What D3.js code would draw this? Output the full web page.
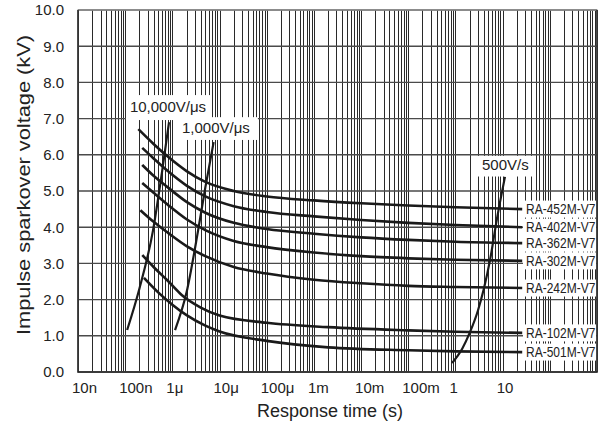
<!DOCTYPE html>
<html>
<head>
<meta charset="utf-8">
<script src="https://cdn.jsdelivr.net/npm/d3@7"></script>
<style>
  body { margin: 0; background: #fff; }
  svg { display: block; font-family: "Liberation Sans", Arial, sans-serif; }
</style>
</head>
<body>
<div class="chart"></div>
<script>
// data: [time (s), voltage (kV)]
const timeTicks = [1e-8, 1e-7, 1e-6, 1e-5, 1e-4, 1e-3, 1e-2, 1e-1, 1, 10];
const timeLabels = ["10n", "100n", "1\u03bc", "10\u03bc", "100\u03bc", "1m", "10m", "100m", "1", "10"];
const voltTicks = [0, 1, 2, 3, 4, 5, 6, 7, 8, 9, 10];

const models = ["RA-452M-V7", "RA-402M-V7", "RA-362M-V7", "RA-302M-V7", "RA-242M-V7", "RA-102M-V7", "RA-501M-V7"];

const ra452 = [[1.9e-7, 6.71], [4e-7, 6.3], [8e-7, 5.95], [2e-6, 5.55], [5e-6, 5.25], [2e-5, 5.0], [1e-4, 4.85], [1e-3, 4.74], [1e-2, 4.66], [1e-1, 4.6], [1, 4.55], [26, 4.5]];
const ra402 = [[2.3e-7, 6.19], [4e-7, 5.9], [8e-7, 5.55], [2e-6, 5.15], [5e-6, 4.85], [2e-5, 4.58], [1e-4, 4.42], [1e-3, 4.3], [1e-2, 4.2], [1e-1, 4.12], [1, 4.06], [26, 4.0]];
const ra362 = [[2.3e-7, 5.72], [4e-7, 5.42], [8e-7, 5.1], [2e-6, 4.7], [5e-6, 4.4], [2e-5, 4.12], [1e-4, 3.95], [1e-3, 3.82], [1e-2, 3.72], [1e-1, 3.65], [1, 3.6], [26, 3.56]];
const ra302 = [[2.3e-7, 5.22], [4e-7, 4.95], [8e-7, 4.62], [2e-6, 4.22], [5e-6, 3.92], [2e-5, 3.62], [1e-4, 3.45], [1e-3, 3.3], [1e-2, 3.2], [1e-1, 3.14], [1, 3.1], [26, 3.07]];
const ra242 = [[2.1e-7, 4.47], [4e-7, 4.15], [8e-7, 3.85], [2e-6, 3.48], [5e-6, 3.2], [2e-5, 2.9], [1e-4, 2.72], [1e-3, 2.55], [1e-2, 2.45], [1e-1, 2.38], [1, 2.35], [26, 2.32]];
const ra102 = [[2.3e-7, 3.23], [4e-7, 2.9], [8e-7, 2.52], [1.6e-6, 2.12], [4e-6, 1.78], [1e-5, 1.56], [1e-4, 1.36], [2e-3, 1.24], [1e-1, 1.15], [1, 1.11], [26, 1.08]];
const ra501 = [[2.5e-7, 2.6], [5e-7, 2.2], [1e-6, 1.86], [2e-6, 1.57], [5e-6, 1.28], [1e-5, 1.12], [1e-4, 0.86], [2e-3, 0.68], [1e-1, 0.6], [1, 0.57], [26, 0.55]];
const curves = [ra452, ra402, ra362, ra302, ra242, ra102, ra501];

// rate-of-rise lines
const rate10000 = [[1.1e-7, 1.16], [2e-7, 2.3], [3.9e-7, 3.92], [6e-7, 5.5], [8.5e-7, 6.9]];
const rate1000 = [[1.14e-6, 1.16], [2e-6, 2.2], [3.5e-6, 3.9], [5e-6, 5.1], [7.5e-6, 6.35]];
const rate500 = [[0.85, 0.25], [1.4, 0.65], [2.0, 1.08], [3.0, 1.7], [4.0, 2.3], [5.4, 3.09], [7.5, 4.2], [11.2, 5.39]];
const rateNames = ["10,000V/\u03bcs", "1,000V/\u03bcs", "500V/s"];
const rateLabelAt = [[1.26e-7, 7.18], [1.6e-6, 6.6], [3.66, 5.58]];

const width = 605;
const height = 421;

const svg = d3
  .select(".chart")
  .append("svg")
  .attr("width", width)
  .attr("height", height);

const x = d3.scaleLog().domain([1e-8, 1e3]).range([78, 597]);
const y = d3.scaleLinear().domain([0, 10]).range([372, 10]);

// vertical log grid
const gridTimes = [];
d3.range(-8, 3).forEach(n => {
  d3.range(1, 10).forEach(k => gridTimes.push(k * Math.pow(10, n)));
});
gridTimes.push(1e3);

svg
  .append("g")
  .selectAll("line")
  .data(gridTimes)
  .enter()
  .append("line")
  .attr("x1", d => Math.round(x(d)) + 0.5)
  .attr("x2", d => Math.round(x(d)) + 0.5)
  .attr("y1", y(10))
  .attr("y2", y(0))
  .attr("stroke", "#2a2a2a")
  .attr("stroke-width", 1);

// horizontal grid
svg
  .append("g")
  .selectAll("line")
  .data(voltTicks)
  .enter()
  .append("line")
  .attr("x1", x(1e-8))
  .attr("x2", x(1e3))
  .attr("y1", d => y(d))
  .attr("y2", d => y(d))
  .attr("stroke", "#4a4a4a")
  .attr("stroke-width", 1.4);

// white label boxes
const rateBoxes = [
  { t0: 1.04e-7, t1: 6.3e-6, v0: 6.96, v1: 7.65 },
  { t0: 1.45e-6, t1: 6.5e-5, v0: 6.41, v1: 7.04 },
  { t0: 3.0, t1: 44, v0: 5.4, v1: 5.97 }
];
svg
  .append("g")
  .selectAll("rect")
  .data(rateBoxes)
  .enter()
  .append("rect")
  .attr("x", d => x(d.t0))
  .attr("width", d => x(d.t1) - x(d.t0))
  .attr("y", d => y(d.v1))
  .attr("height", d => y(d.v0) - y(d.v1))
  .attr("fill", "#fff");

const ends = curves.map(c => c[c.length - 1]);
svg
  .append("g")
  .selectAll("rect")
  .data(ends)
  .enter()
  .append("rect")
  .attr("x", x(27))
  .attr("width", x(1e3) - x(27) - 1)
  .attr("y", d => y(d[1]) - 8.5)
  .attr("height", 17)
  .attr("fill", "#fff");

const line = d3
  .line()
  .x(d => x(d[0]))
  .y(d => y(d[1]))
  .curve(d3.curveMonotoneX);

svg
  .append("g")
  .selectAll("path")
  .data([rate10000, rate1000, rate500])
  .enter()
  .append("path")
  .attr("d", line)
  .attr("fill", "none")
  .attr("stroke", "#1a1a1a")
  .attr("stroke-width", 2.2);

svg
  .append("g")
  .selectAll("path")
  .data(curves)
  .enter()
  .append("path")
  .attr("d", line)
  .attr("fill", "none")
  .attr("stroke", "#1a1a1a")
  .attr("stroke-width", 2.6);

// frame
svg
  .append("rect")
  .attr("x", x(1e-8))
  .attr("y", y(10))
  .attr("width", x(1e3) - x(1e-8))
  .attr("height", y(0) - y(10))
  .attr("fill", "none")
  .attr("stroke", "#9a9a9a")
  .attr("stroke-width", 1.2);
svg
  .append("path")
  .attr("d", `M${x(1e-8)},${y(10)}V${y(0)}H${x(1e3)}V${y(10)}`)
  .attr("fill", "none")
  .attr("stroke", "#222")
  .attr("stroke-width", 1.5);

// curve labels, squeezed horizontally like the scan
svg
  .append("g")
  .selectAll("text")
  .data(ends)
  .enter()
  .append("text")
  .attr("transform", d => `translate(${x(27) + 3},${y(d[1]) + 5}) scale(0.8,1)`)
  .attr("font-size", 15)
  .attr("fill", "#222")
  .text((d, i) => models[i]);

// rate labels
svg
  .append("g")
  .selectAll("text")
  .data(rateLabelAt)
  .enter()
  .append("text")
  .attr("x", d => x(d[0]))
  .attr("y", d => y(d[1]))
  .attr("font-size", 15)
  .attr("fill", "#222")
  .text((d, i) => rateNames[i]);

// y axis labels
const yAxis = d3.axisLeft(y).tickValues(voltTicks).tickSize(0).tickPadding(14).tickFormat(d3.format(".1f"));
svg
  .append("g")
  .attr("transform", `translate(${x(1e-8)},0)`)
  .call(yAxis)
  .call(g => g.select(".domain").remove())
  .call(g => g.selectAll("text").attr("font-size", 15).attr("fill", "#222").attr("font-family", "Liberation Sans, Arial, sans-serif"));

// x axis labels
svg
  .append("g")
  .selectAll("text")
  .data(timeTicks)
  .enter()
  .append("text")
  .attr("x", d => x(d) - 6)
  .attr("y", 393)
  .attr("font-size", 15)
  .attr("fill", "#222")
  .text((d, i) => timeLabels[i]);

svg
  .append("text")
  .attr("x", 330)
  .attr("y", 417)
  .attr("text-anchor", "middle")
  .attr("font-size", 18)
  .attr("fill", "#222")
  .text("Response time (s)");

svg
  .append("text")
  .attr("transform", "translate(30,185) rotate(-90)")
  .attr("text-anchor", "middle")
  .attr("font-size", 19)
  .attr("textLength", 300)
  .attr("lengthAdjust", "spacingAndGlyphs")
  .attr("fill", "#222")
  .text("Impulse sparkover voltage (kV)");
</script>
</body>
</html>
